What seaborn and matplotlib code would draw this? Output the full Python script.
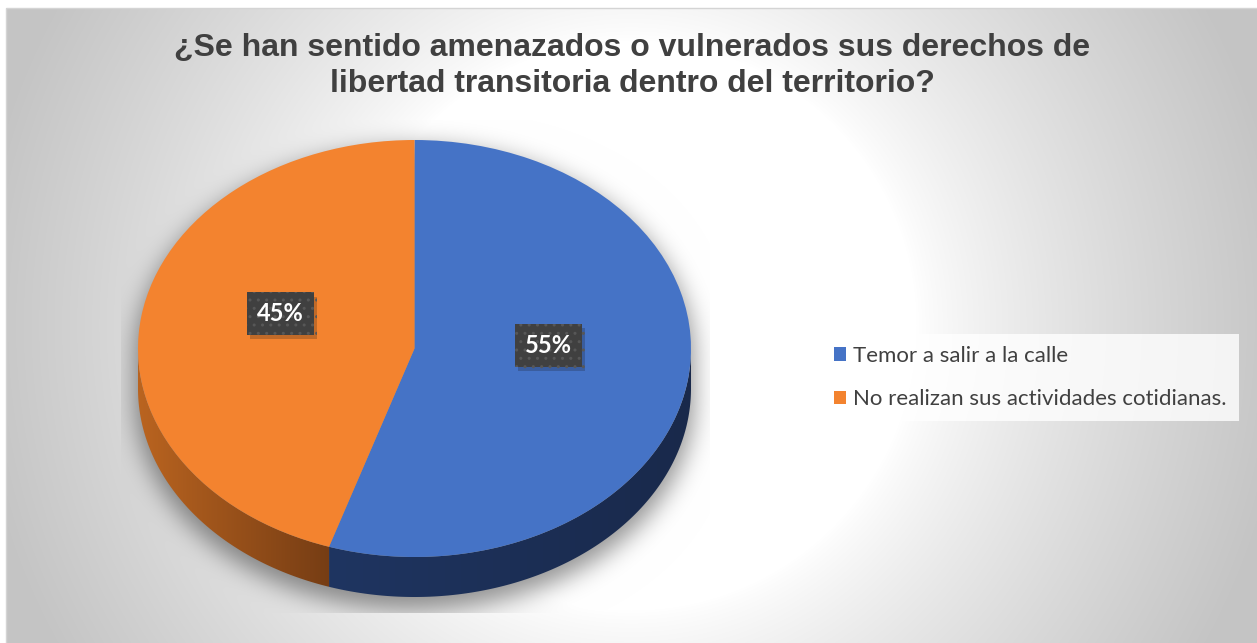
import numpy as np
import matplotlib
matplotlib.use("Agg")
import matplotlib.pyplot as plt
import seaborn as sns
from matplotlib.patches import Polygon, Patch, Rectangle
from matplotlib.colors import LinearSegmentedColormap
import matplotlib.patheffects as pe

sns.set_theme(style="white")
plt.rcParams['font.family'] = ['Lato', 'DejaVu Sans']

# datos
categorias = ["Temor a salir a la calle", "No realizan sus actividades cotidianas."]
porcentajes = [55, 45]
colores = ["#4573C6", "#F3832F"]
colores_lado = [("#1F3561", "#19294B"), ("#BA6420", "#763D14")]
titulo = "¿Se han sentido amenazados o vulnerados sus derechos de\nlibertad transitoria dentro del territorio?"

W, H = 1257, 643
# geometria del pastel en pixeles
CX, CY, RX, RY, DEPTH = 414.5, 348.5, 276.5, 208.5, 40


def blur(a, sigma):
    r = int(3 * sigma)
    k = np.exp(-0.5 * (np.arange(-r, r + 1) / sigma) ** 2)
    k /= k.sum()
    a = np.apply_along_axis(lambda v: np.convolve(v, k, mode="same"), 1, a)
    a = np.apply_along_axis(lambda v: np.convolve(v, k, mode="same"), 0, a)
    return a


fig = plt.figure(figsize=(W / 100, H / 100), dpi=100)

# fondo con degradado radial + sombra del pastel
yy, xx = np.mgrid[0:H, 0:W] + 0.5
gx, gy = (6 + W) / 2, (8 + H) / 2
r = np.hypot(xx - gx, yy - gy)
t = np.clip((r - 285) / (660 - 285), 0, 1) ** 0.8
fondo = 1 - 0.23 * t

g, off = 3, 10
e1 = ((xx - CX) / (RX + g)) ** 2 + ((yy - CY - off) / (RY + g)) ** 2 <= 1
e2 = ((xx - CX) / (RX + g)) ** 2 + ((yy - CY - off - DEPTH) / (RY + g)) ** 2 <= 1
banda = (np.abs(xx - CX) <= RX + g) & (yy >= CY + off) & (yy <= CY + off + DEPTH)
sombra = blur((e1 | e2 | banda).astype(float), 12)
recorte = (xx >= 121) & (xx <= 710) & (yy >= 120) & (yy <= 613)
fondo = fondo * (1 - 0.42 * sombra * recorte)
fondo[(xx < 6) | (yy < 8)] = 1.0
img = np.dstack([fondo] * 3)

bg = fig.add_axes([0, 0, 1, 1])
bg.imshow(img, extent=(0, W, H, 0), aspect="auto", interpolation="bilinear")
bg.add_patch(Rectangle((6, 8), W, H, fill=False, edgecolor="#d4d4d4", linewidth=1))
bg.set_xlim(0, W)
bg.set_ylim(H, 0)
bg.axis("off")

# ejes del pastel (escala no uniforme -> elipse)
x0, x1, y0, y1 = -1.3, 1.3, -1.4, 1.3
ax = fig.add_axes([(CX + x0 * RX) / W, (H - (CY - y0 * RY)) / H,
                   (x1 - x0) * RX / W, (y1 - y0) * RY / H])
ax.patch.set_alpha(0)
wedges, _ = ax.pie(porcentajes, colors=colores, startangle=90, counterclock=False,
                   wedgeprops=dict(linewidth=0))
for w in wedges:
    w.set_zorder(2)
ax.set_aspect("auto")
ax.set_xlim(x0, x1)
ax.set_ylim(y0, y1)
ax.axis("off")

d = DEPTH / RY
for w, (c1, c2) in zip(wedges, colores_lado):
    for k in (-1, 0, 1):
        lo = max(w.theta1, -180 + 360 * k)
        hi = min(w.theta2, 360 * k)
        if hi <= lo:
            continue
        a = np.radians(np.linspace(lo, hi, 200))
        arriba = np.column_stack([np.cos(a), np.sin(a)])
        abajo = np.column_stack([np.cos(a), np.sin(a) - d])
        poly = Polygon(np.vstack([arriba, abajo[::-1]]), closed=True,
                       facecolor="none", edgecolor="none")
        ax.add_patch(poly)
        xmin, xmax = np.cos(a).min(), np.cos(a).max()
        cmap = LinearSegmentedColormap.from_list("lado", [c1, c2])
        im = ax.imshow(np.linspace(0, 1, 256)[None, :], cmap=cmap, aspect="auto",
                       extent=(xmin, xmax, -1 - d, 0.05), zorder=1)
        im.set_clip_path(poly)
ax.set_xlim(x0, x1)
ax.set_ylim(y0, y1)

# etiquetas de porcentaje
for w, p in zip(wedges, porcentajes):
    th = np.radians((w.theta1 + w.theta2) / 2)
    txt = ax.text(0.49 * np.cos(th), 0.49 * np.sin(th) + 0.09, f"{p}%",
                  ha="center", va="center", color="white", fontsize=17,
                  fontweight="bold", zorder=5,
                  bbox=dict(boxstyle="square,pad=0.42", facecolor="#404040",
                            edgecolor="#575757", linewidth=0, hatch=".."))
    txt.get_bbox_patch().set_path_effects(
        [pe.SimplePatchShadow(offset=(2, -3), alpha=0.22), pe.Normal()])

# titulo
fig.text(632 / W, 1 - 66 / H, titulo, ha="center", va="center",
         fontsize=23, fontweight="bold", color="#404040",
         family=["Liberation Sans", "DejaVu Sans"], linespacing=1.28)

# leyenda
handles = [Patch(facecolor=c, edgecolor="none") for c in colores]
leg = fig.legend(handles, categorias, loc="center left",
                 bbox_to_anchor=(822 / W, 1 - 377.5 / H), bbox_transform=fig.transFigure,
                 fontsize=16, frameon=True, borderaxespad=0, borderpad=0.55,
                 handlelength=0.55, handleheight=0.55, handletextpad=0.3,
                 labelspacing=1.05, fancybox=False)
leg.get_frame().set_facecolor((1, 1, 1, 0.2))
leg.get_frame().set_edgecolor("none")
for tx in leg.get_texts():
    tx.set_color("#404040")

fig.savefig("out.png", dpi=100)
